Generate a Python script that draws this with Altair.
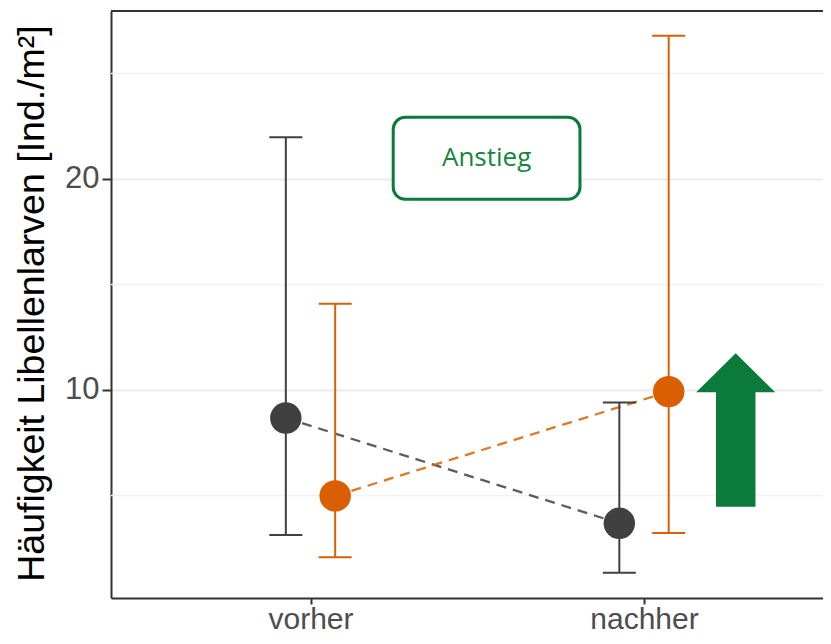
import altair as alt
import pandas as pd

# ---- data ----
phases = ["vorher", "nachher"]
groups = ["Gruppe A", "Gruppe B"]
mean_a = [8.67, 3.68]
lower_a = [3.13, 1.34]
upper_a = [21.98, 9.40]
mean_b = [4.98, 9.92]
lower_b = [2.07, 3.22]
upper_b = [14.08, 26.79]
major_ticks = [10, 20]
minor_grid = [5, 15, 25]
annotation_text = ["Anstieg"]

# ---- styling ----
colors = ["#404040", "#D95F02"]
green = "#0B7A3A"
DODGE = 0.074
FONT = "Liberation Sans"

rows = []
series = [(mean_a, lower_a, upper_a), (mean_b, lower_b, upper_b)]
for gi, g in enumerate(groups):
    m, lo, up = series[gi]
    for pi, p in enumerate(phases):
        rows.append({"phase": p, "pos": pi + 1, "group": g, "gidx": gi,
                     "mean": m[pi], "lower": lo[pi], "upper": up[pi]})
df = pd.DataFrame(rows)

x_scale = alt.Scale(domain=[0.4018, 2.5367], nice=False, zero=False)
y_scale = alt.Scale(domain=[0.14, 27.96], nice=False, zero=False)
c_scale = alt.Scale(domain=groups, range=colors)

label_expr = "[" + ",".join("'%s'" % p for p in phases) + "][datum.value - 1]"

x_axis = alt.Axis(values=[1, 2], labelExpr=label_expr, title=None, grid=False,
                  labelFont=FONT, labelFontSize=30, labelColor="#4D4D4D",
                  labelPadding=0, tickSize=6, tickWidth=2, tickColor="#333333",
                  domainColor="#333333", domainWidth=2)
y_axis = alt.Axis(values=major_ticks, title="Häufigkeit Libellenlarven [Ind./m²]",
                  titleFont=FONT, titleFontSize=37.5, titleFontWeight="normal",
                  titleColor="#000000", titleX=-79, titleY=292, titleAngle=270,
                  titleAlign="center", titleBaseline="middle",
                  labelFont=FONT, labelFontSize=31, labelColor="#4D4D4D",
                  labelPadding=3, tickSize=9, tickWidth=2, tickColor="#333333",
                  domainColor="#333333", domainWidth=2,
                  grid=True, gridColor="#EBEBEB", gridWidth=2)

base = alt.Chart(df).transform_calculate(
    xpos="datum.pos + (datum.gidx - 0.5) * %f" % (2 * DODGE)
)
X = alt.X("xpos:Q", scale=x_scale, axis=x_axis)
C = alt.Color("group:N", scale=c_scale, legend=None)

minor = alt.Chart(pd.DataFrame({"v": minor_grid})).mark_rule(
    color="#F2F2F2", strokeWidth=1.5
).encode(y=alt.Y("v:Q", scale=y_scale, axis=y_axis))

lines = base.mark_line(strokeDash=[10, 7], strokeWidth=2.3, opacity=0.85).encode(
    x=X, y=alt.Y("mean:Q", scale=y_scale, axis=y_axis), color=C,
    detail="group:N", order="pos:Q")

bars = base.mark_rule(strokeWidth=2).encode(
    x=X, y=alt.Y("lower:Q", scale=y_scale, axis=y_axis), y2="upper:Q", color=C)

cap_lo = base.mark_point(shape="stroke", size=33 ** 2, strokeWidth=2, opacity=1).encode(
    x=X, y=alt.Y("lower:Q", scale=y_scale, axis=y_axis), color=C)
cap_up = base.mark_point(shape="stroke", size=33 ** 2, strokeWidth=2, opacity=1).encode(
    x=X, y=alt.Y("upper:Q", scale=y_scale, axis=y_axis), color=C)

points = base.mark_circle(size=990, opacity=1).encode(
    x=X, y=alt.Y("mean:Q", scale=y_scale, axis=y_axis), color=C)

# annotation box, text and arrow (placed in data coordinates)
ann = pd.DataFrame({"x": [1.248], "x2": [1.808], "y": [22.92], "y2": [19.04],
                    "tx": [1.528], "ty": [20.98], "text": annotation_text})
box = alt.Chart(ann).mark_rect(cornerRadius=12, fill="white", stroke=green,
                               strokeWidth=3).encode(
    x=alt.X("x:Q", scale=x_scale, axis=x_axis), x2="x2:Q",
    y=alt.Y("y:Q", scale=y_scale, axis=y_axis), y2="y2:Q")
txt = alt.Chart(ann).mark_text(font="Open Sans", fontSize=26, color="#17843F").encode(
    x=alt.X("tx:Q", scale=x_scale, axis=x_axis),
    y=alt.Y("ty:Q", scale=y_scale, axis=y_axis), text="text:N")

arrow_path = "M0,-1.942L1,-0.954L0.5,-0.954L0.5,1.942L-0.5,1.942L-0.5,-0.954L-1,-0.954Z"
arr = pd.DataFrame({"ax": [2.275], "ay": [8.10]})
arrow = alt.Chart(arr).mark_point(shape=arrow_path, size=79 ** 2, filled=True,
                                  fill=green, color=green, opacity=1,
                                  strokeWidth=0).encode(
    x=alt.X("ax:Q", scale=x_scale, axis=x_axis),
    y=alt.Y("ay:Q", scale=y_scale, axis=y_axis))

top_border = alt.Chart(pd.DataFrame({"a": [0]})).mark_rule(
    color="#333333", strokeWidth=2).encode(
    y=alt.value(0), x=alt.value(0), x2=alt.value(712))

chart = alt.layer(minor, lines, bars, cap_lo, cap_up, points, box, txt, arrow,
                  top_border).properties(
    width=712, height=587,
    autosize=alt.AutoSizeParams(type="none"),
    padding={"left": 103, "top": 3, "right": 0, "bottom": 38},
    background="white",
).configure_view(stroke=None)

chart.save("out.html", embed_options={"renderer": "svg", "actions": False})
